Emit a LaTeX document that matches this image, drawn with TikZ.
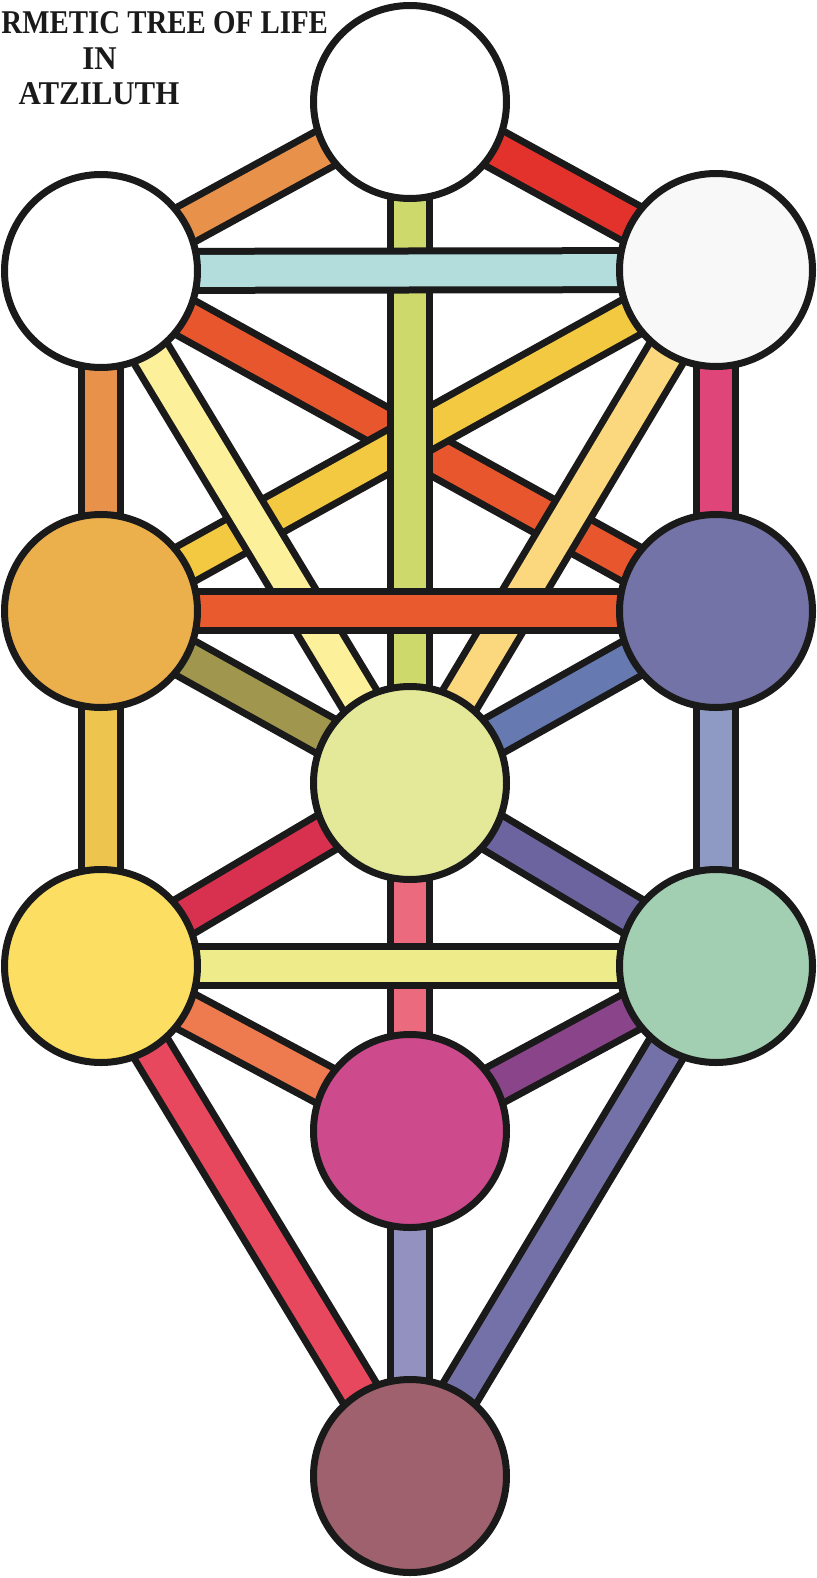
\documentclass[tikz,border=0pt]{standalone}
\usepackage{fontspec}
\usetikzlibrary{backgrounds}
\newfontfamily\titlefont[FakeStretch=0.87]{Liberation Serif}
\newfontfamily\titlefontwide[FakeStretch=0.93]{Liberation Serif}
\definecolor{ink}{HTML}{1A1A1A}
\definecolor{cKether}{HTML}{FFFFFF}
\definecolor{cChokmah}{HTML}{F9F8F8}
\definecolor{cBinah}{HTML}{FFFFFF}
\definecolor{cChesed}{HTML}{7373A8}
\definecolor{cGeburah}{HTML}{EBB04C}
\definecolor{cTiph}{HTML}{E4E99A}
\definecolor{cNetzach}{HTML}{A2CFB2}
\definecolor{cHod}{HTML}{FCDF62}
\definecolor{cYesod}{HTML}{CD4A8C}
\definecolor{cMalkuth}{HTML}{9E616D}
\definecolor{pKB}{HTML}{E8914A}
\definecolor{pKC}{HTML}{E3322C}
\definecolor{pKT}{HTML}{CDD96A}
\definecolor{pBC}{HTML}{B3DCDC}
\definecolor{pBCh}{HTML}{E8562E}
\definecolor{pCG}{HTML}{F3C941}
\definecolor{pBT}{HTML}{FDF09A}
\definecolor{pCT}{HTML}{FBD77E}
\definecolor{pBG}{HTML}{E8914A}
\definecolor{pCCh}{HTML}{E0457A}
\definecolor{pGCh}{HTML}{E95A2F}
\definecolor{pGT}{HTML}{A1964E}
\definecolor{pChT}{HTML}{6679B0}
\definecolor{pGH}{HTML}{EDC54E}
\definecolor{pChN}{HTML}{8E9AC4}
\definecolor{pTH}{HTML}{D8304F}
\definecolor{pTN}{HTML}{6B649E}
\definecolor{pTY}{HTML}{EC6A7E}
\definecolor{pHN}{HTML}{EEEB8B}
\definecolor{pHY}{HTML}{EE7B4F}
\definecolor{pNY}{HTML}{8A4489}
\definecolor{pHM}{HTML}{E8485E}
\definecolor{pNM}{HTML}{7371A7}
\definecolor{pYM}{HTML}{9391C0}
\tikzset{
  sephira/.style={circle, draw=ink, line width=3.5pt, minimum size=96.5pt, inner sep=0pt, fill=#1},
  pathbar/.style={draw=ink, line width=3.5pt, double=#1, double distance=16pt},
  titletext/.style={inner sep=0pt, font=\titlefont\bfseries\fontsize{16.6pt}{18pt}\selectfont, text=ink},
  titlewide/.style={inner sep=0pt, font=\titlefontwide\bfseries\fontsize{16.6pt}{18pt}\selectfont, text=ink}
}
\begin{document}
\begin{tikzpicture}[x=0.5pt, y=-0.5pt]
\useasboundingbox (0,0) rectangle (817,1578);
% Sephiroth
\node[sephira=cKether]   (K)  at (410,102)  {};
\node[sephira=cChokmah]  (C)  at (716,270)  {};
\node[sephira=cBinah]    (B)  at (101,271)  {};
\node[sephira=cChesed]   (Ch) at (716,611)  {};
\node[sephira=cGeburah]  (G)  at (101,611)  {};
\node[sephira=cTiph]     (T)  at (410,783)  {};
\node[sephira=cNetzach]  (N)  at (716,966)  {};
\node[sephira=cHod]      (H)  at (101,966)  {};
\node[sephira=cYesod]    (Y)  at (410,1131) {};
\node[sephira=cMalkuth]  (M)  at (410,1476) {};
% Title
\node[titletext, anchor=base west] (t1) at (1,34) {RMETIC TREE OF LIFE};
\node[titlewide, anchor=base] (t2) at (99.5,70) {IN};
\node[titlewide, anchor=base] (t3) at (99,105) {ATZILUTH};
% Paths
\begin{pgfonlayer}{background}
\draw[pathbar=pKB]  (K.center) -- (B.center);
\draw[pathbar=pKC]  (K.center) -- (C.center);
\draw[pathbar=pBG]  (B.center) -- (G.center);
\draw[pathbar=pCCh] (C.center) -- (Ch.center);
\draw[pathbar=pGT]  (G.center) -- (T.center);
\draw[pathbar=pChT] (Ch.center) -- (T.center);
\draw[pathbar=pGH]  (G.center) -- (H.center);
\draw[pathbar=pChN] (Ch.center) -- (N.center);
\draw[pathbar=pTH]  (T.center) -- (H.center);
\draw[pathbar=pTN]  (T.center) -- (N.center);
\draw[pathbar=pTY]  (T.center) -- (Y.center);
\draw[pathbar=pHY]  (H.center) -- (Y.center);
\draw[pathbar=pNY]  (N.center) -- (Y.center);
\draw[pathbar=pHM]  (H.center) -- (M.center);
\draw[pathbar=pNM]  (N.center) -- (M.center);
\draw[pathbar=pYM]  (Y.center) -- (M.center);
\draw[pathbar=pBCh] (B.center) -- (Ch.center);
\draw[pathbar=pCG]  (C.center) -- (G.center);
\draw[pathbar=pBT]  (B.center) -- (T.center);
\draw[pathbar=pCT]  (C.center) -- (T.center);
\draw[pathbar=pKT]  (K.center) -- (T.center);
\draw[pathbar=pBC]  (B.center) -- (C.center);
\draw[pathbar=pGCh] (G.center) -- (Ch.center);
\draw[pathbar=pHN]  (H.center) -- (N.center);
\end{pgfonlayer}
\end{tikzpicture}
\end{document}
